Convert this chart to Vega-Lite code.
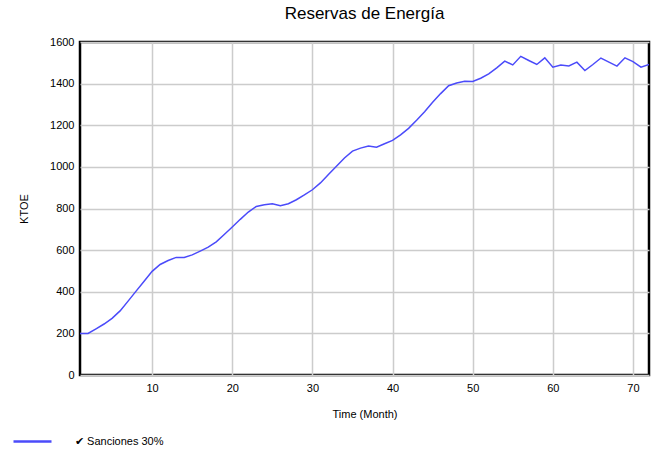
{
  "$schema": "https://vega.github.io/schema/vega-lite/v6.json",
  "autosize": "none",
  "padding": {"left": 80, "top": 42, "right": 7, "bottom": 77},
  "width": 569,
  "height": 333,
  "title": {"text": "Reservas de Energía", "font": "Liberation Sans", "fontSize": 17, "fontWeight": "normal", "color": "#000", "offset": 13, "anchor": "middle"},
  "config": {
    "view": {"stroke": "#000", "strokeWidth": 2.5},
    "font": "Liberation Sans",
    "axis": {"labelFont": "Liberation Sans", "titleFont": "Liberation Sans", "labelFontSize": 11, "titleFontSize": 11, "titleFontWeight": "normal", "labelColor": "#000", "titleColor": "#000", "gridColor": "#cccccc", "gridWidth": 1.5, "domain": false, "ticks": false}
  },
  "data": {"values": [
    {"t": 1, "v": 200, "s": "Sanciones 30%"},
    {"t": 2, "v": 200, "s": "Sanciones 30%"},
    {"t": 3, "v": 222, "s": "Sanciones 30%"},
    {"t": 4, "v": 245, "s": "Sanciones 30%"},
    {"t": 5, "v": 272, "s": "Sanciones 30%"},
    {"t": 6, "v": 308, "s": "Sanciones 30%"},
    {"t": 7, "v": 355, "s": "Sanciones 30%"},
    {"t": 8, "v": 403, "s": "Sanciones 30%"},
    {"t": 9, "v": 450, "s": "Sanciones 30%"},
    {"t": 10, "v": 498, "s": "Sanciones 30%"},
    {"t": 11, "v": 531, "s": "Sanciones 30%"},
    {"t": 12, "v": 550, "s": "Sanciones 30%"},
    {"t": 13, "v": 565, "s": "Sanciones 30%"},
    {"t": 14, "v": 565, "s": "Sanciones 30%"},
    {"t": 15, "v": 577, "s": "Sanciones 30%"},
    {"t": 16, "v": 595, "s": "Sanciones 30%"},
    {"t": 17, "v": 614, "s": "Sanciones 30%"},
    {"t": 18, "v": 640, "s": "Sanciones 30%"},
    {"t": 19, "v": 675, "s": "Sanciones 30%"},
    {"t": 20, "v": 711, "s": "Sanciones 30%"},
    {"t": 21, "v": 748, "s": "Sanciones 30%"},
    {"t": 22, "v": 783, "s": "Sanciones 30%"},
    {"t": 23, "v": 810, "s": "Sanciones 30%"},
    {"t": 24, "v": 818, "s": "Sanciones 30%"},
    {"t": 25, "v": 823, "s": "Sanciones 30%"},
    {"t": 26, "v": 813, "s": "Sanciones 30%"},
    {"t": 27, "v": 823, "s": "Sanciones 30%"},
    {"t": 28, "v": 842, "s": "Sanciones 30%"},
    {"t": 29, "v": 865, "s": "Sanciones 30%"},
    {"t": 30, "v": 890, "s": "Sanciones 30%"},
    {"t": 31, "v": 923, "s": "Sanciones 30%"},
    {"t": 32, "v": 963, "s": "Sanciones 30%"},
    {"t": 33, "v": 1003, "s": "Sanciones 30%"},
    {"t": 34, "v": 1043, "s": "Sanciones 30%"},
    {"t": 35, "v": 1076, "s": "Sanciones 30%"},
    {"t": 36, "v": 1090, "s": "Sanciones 30%"},
    {"t": 37, "v": 1100, "s": "Sanciones 30%"},
    {"t": 38, "v": 1094, "s": "Sanciones 30%"},
    {"t": 39, "v": 1111, "s": "Sanciones 30%"},
    {"t": 40, "v": 1127, "s": "Sanciones 30%"},
    {"t": 41, "v": 1154, "s": "Sanciones 30%"},
    {"t": 42, "v": 1185, "s": "Sanciones 30%"},
    {"t": 43, "v": 1224, "s": "Sanciones 30%"},
    {"t": 44, "v": 1265, "s": "Sanciones 30%"},
    {"t": 45, "v": 1310, "s": "Sanciones 30%"},
    {"t": 46, "v": 1352, "s": "Sanciones 30%"},
    {"t": 47, "v": 1390, "s": "Sanciones 30%"},
    {"t": 48, "v": 1403, "s": "Sanciones 30%"},
    {"t": 49, "v": 1411, "s": "Sanciones 30%"},
    {"t": 50, "v": 1410, "s": "Sanciones 30%"},
    {"t": 51, "v": 1426, "s": "Sanciones 30%"},
    {"t": 52, "v": 1447, "s": "Sanciones 30%"},
    {"t": 53, "v": 1476, "s": "Sanciones 30%"},
    {"t": 54, "v": 1508, "s": "Sanciones 30%"},
    {"t": 55, "v": 1490, "s": "Sanciones 30%"},
    {"t": 56, "v": 1531, "s": "Sanciones 30%"},
    {"t": 57, "v": 1511, "s": "Sanciones 30%"},
    {"t": 58, "v": 1492, "s": "Sanciones 30%"},
    {"t": 59, "v": 1524, "s": "Sanciones 30%"},
    {"t": 60, "v": 1479, "s": "Sanciones 30%"},
    {"t": 61, "v": 1489, "s": "Sanciones 30%"},
    {"t": 62, "v": 1485, "s": "Sanciones 30%"},
    {"t": 63, "v": 1503, "s": "Sanciones 30%"},
    {"t": 64, "v": 1463, "s": "Sanciones 30%"},
    {"t": 65, "v": 1492, "s": "Sanciones 30%"},
    {"t": 66, "v": 1523, "s": "Sanciones 30%"},
    {"t": 67, "v": 1503, "s": "Sanciones 30%"},
    {"t": 68, "v": 1484, "s": "Sanciones 30%"},
    {"t": 69, "v": 1524, "s": "Sanciones 30%"},
    {"t": 70, "v": 1506, "s": "Sanciones 30%"},
    {"t": 71, "v": 1479, "s": "Sanciones 30%"},
    {"t": 72, "v": 1492, "s": "Sanciones 30%"}
  ]},
  "mark": {"type": "line", "strokeWidth": 1.5, "clip": true},
  "encoding": {
    "x": {"field": "t", "type": "quantitative", "title": "Time (Month)",
      "scale": {"domain": [1, 72], "nice": false, "zero": false},
      "axis": {"values": [10, 20, 30, 40, 50, 60, 70], "labelPadding": 7, "titlePadding": 15}},
    "y": {"field": "v", "type": "quantitative", "title": "KTOE",
      "scale": {"domain": [0, 1600], "nice": false},
      "axis": {"values": [0, 200, 400, 600, 800, 1000, 1200, 1400, 1600], "format": "d", "labelPadding": 6, "titlePadding": 20}},
    "color": {"field": "s", "type": "nominal", "title": null,
      "scale": {"range": ["#4b4bfa"]},
      "legend": {"orient": "none", "legendX": -68, "legendY": 379, "symbolType": "stroke", "symbolSize": 1444, "symbolStrokeWidth": 2.5, "labelFont": "Liberation Sans", "labelFontSize": 11, "labelColor": "#000", "labelOffset": 22, "labelExpr": "'✔  ' + datum.label"}}
  }
}
